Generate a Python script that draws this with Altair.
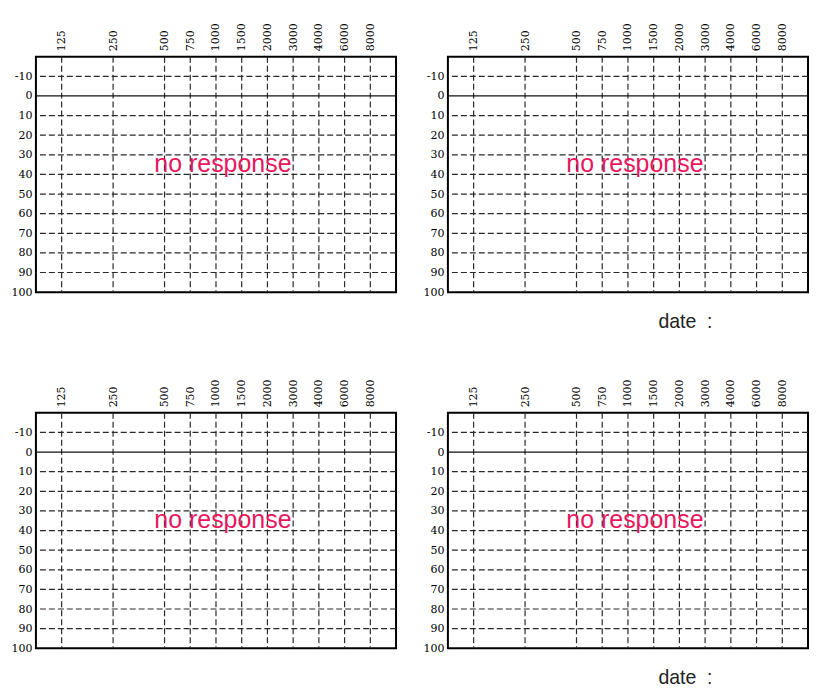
import math
import altair as alt
import pandas as pd

# ---- data ----
freqs = [125, 250, 500, 750, 1000, 1500, 2000, 3000, 4000, 6000, 8000]
db_levels = [-10, 0, 10, 20, 30, 40, 50, 60, 70, 80, 90, 100]
grid_db = [-10, 10, 20, 30, 40, 50, 60, 70, 80, 90]
zero_db = [0]
note_text = ["no response"]
note_pos = [6.27]   # half-octave index
note_db = [34.5]
date_text = ["date \u00a0:"]

# half-octave positions (audiogram layout)
pos = [round(2 * math.log2(f / 125)) for f in freqs]
label_arr = [""] * (max(pos) + 1)
for p, f in zip(pos, freqs):
    label_arr[p] = str(f)
label_js = "[" + ",".join("'%s'" % s for s in label_arr) + "]"

freq_df = pd.DataFrame({"pos": pos, "freq": freqs})
grid_df = pd.DataFrame({"db": grid_db})
zero_df = pd.DataFrame({"db": zero_db})
note_df = pd.DataFrame({"x": note_pos, "y": note_db, "t": note_text})
date_df = pd.DataFrame({"t": date_text})

W, H = 361, 236
xscale = alt.Scale(domain=[-1, 13], nice=False, zero=False)
yscale = alt.Scale(domain=[-20, 100], reverse=True, nice=False, zero=False)

xaxis = alt.Axis(orient="top", values=pos, labelExpr=label_js + "[datum.value]",
                 labelAngle=270, labelPadding=6, title=None)
yaxis = alt.Axis(orient="left", values=db_levels, labelExpr="datum.value + ''",
                 labelPadding=4, title=None)

LINE = "#2a2a2a"


def panel(with_date):
    vlines = alt.Chart(freq_df).mark_rule(color=LINE, strokeWidth=1.2, strokeDash=[6, 3]).encode(
        x=alt.X("pos:Q", scale=xscale, axis=xaxis)
    )
    hlines = alt.Chart(grid_df).mark_rule(color=LINE, strokeWidth=1.2, strokeDash=[6, 3]).encode(
        y=alt.Y("db:Q", scale=yscale, axis=yaxis)
    )
    zline = alt.Chart(zero_df).mark_rule(color="#111111", strokeWidth=1.2).encode(
        y=alt.Y("db:Q", scale=yscale, axis=yaxis)
    )
    note = alt.Chart(note_df).mark_text(
        font="Liberation Sans", fontSize=25, color="#e8175d", align="center", baseline="middle"
    ).encode(
        x=alt.X("x:Q", scale=xscale, axis=xaxis),
        y=alt.Y("y:Q", scale=yscale, axis=yaxis),
        text="t:N",
    )
    layers = [vlines, hlines, zline, note]
    if with_date:
        date = alt.Chart(date_df).mark_text(
            font="Liberation Sans", fontSize=19.5, color="#222222", align="left", baseline="middle"
        ).encode(x=alt.value(211), y=alt.value(266), text="t:N")
        layers.append(date)
    return alt.layer(*layers).properties(width=W, height=H)


row1 = alt.hconcat(panel(False), panel(True), spacing=24)
row2 = alt.hconcat(panel(False), panel(True), spacing=24)

chart = alt.vconcat(row1, row2, spacing=45).properties(
    padding={"left": 2, "top": 13, "right": 0, "bottom": 0},
    background="white",
).configure_view(
    stroke="black", strokeWidth=2
).configure_axis(
    domain=False, ticks=False, grid=False,
    labelFont="DejaVu Serif", labelFontSize=11, labelColor="#000000"
)

chart.save("out.html", embed_options={"renderer": "svg", "actions": False})
